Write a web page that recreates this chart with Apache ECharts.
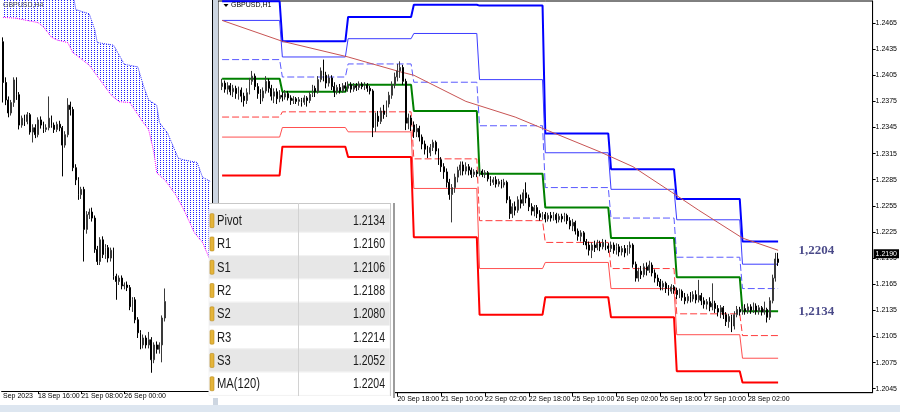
<!DOCTYPE html>
<html><head><meta charset="utf-8">
<script src="https://cdn.jsdelivr.net/npm/echarts@6/dist/echarts.min.js"></script>
<style>html,body{margin:0;padding:0;background:#fff}#c{width:900px;height:412px}</style>
</head><body><div id="c"></div>
<script>
// ---------- H1 main chart data ----------
const h1Days = ['18 Sep','19 Sep','20 Sep','21 Sep','22 Sep','25 Sep','26 Sep','27 Sep','28 Sep','29 Sep'];
const h1FirstHour = 1;
const h1CategoryCount = 239;
const h1TickLabels = ['20 Sep 18:00','21 Sep 10:00','22 Sep 02:00','22 Sep 18:00','25 Sep 10:00','26 Sep 02:00','26 Sep 18:00','27 Sep 10:00','28 Sep 02:00'];
const h1FirstBarCategory = 1;
// [open, close, low, high]
const h1Candles = [
[1.2392,1.2396,1.2388,1.2401],[1.2396,1.2389,1.2385,1.2399],[1.2389,1.2393,1.2383,1.2397],[1.2393,1.2386,1.2382,1.2396],
[1.2386,1.2390,1.2380,1.2394],[1.2390,1.2384,1.2378,1.2393],[1.2384,1.2388,1.2377,1.2392],[1.2388,1.2381,1.2374,1.2391],
[1.2381,1.2376,1.2369,1.2385],[1.2376,1.2385,1.2372,1.2390],[1.2385,1.2398,1.2383,1.2402],[1.2398,1.2404,1.2394,1.2410],
[1.2404,1.2392,1.2388,1.2407],[1.2392,1.2384,1.2378,1.2396],[1.2384,1.2379,1.2372,1.2389],[1.2379,1.2387,1.2375,1.2391],
[1.2387,1.2398,1.2384,1.2404],[1.2398,1.2390,1.2385,1.2401],[1.2390,1.2381,1.2376,1.2394],[1.2381,1.2386,1.2373,1.2390],
[1.2386,1.2378,1.2372,1.2390],[1.2378,1.2382,1.2374,1.2388],
[1.2382,1.2380,1.2375,1.2386],[1.2380,1.2384,1.2377,1.2388],[1.2384,1.2379,1.2376,1.2387],[1.2379,1.2376,1.2371,1.2382],
[1.2376,1.2378,1.2372,1.2381],[1.2378,1.2375,1.2372,1.2380],[1.2375,1.2377,1.2370,1.2380],[1.2377,1.2374,1.2369,1.2379],
[1.2374,1.2379,1.2371,1.2382],[1.2379,1.2376,1.2369,1.2381],[1.2376,1.2383,1.2373,1.2386],[1.2383,1.2390,1.2380,1.2394],
[1.2390,1.2386,1.2380,1.2393],[1.2386,1.2400,1.2384,1.2404],[1.2400,1.2410,1.2397,1.2414],[1.2410,1.2405,1.2398,1.2423],
[1.2405,1.2396,1.2390,1.2409],[1.2396,1.2402,1.2392,1.2406],[1.2402,1.2392,1.2388,1.2405],[1.2392,1.2386,1.2380,1.2397],
[1.2386,1.2391,1.2383,1.2394],[1.2391,1.2387,1.2384,1.2395],[1.2387,1.2393,1.2385,1.2396],[1.2393,1.2390,1.2386,1.2397],
[1.2390,1.2394,1.2386,1.2398],[1.2394,1.2389,1.2385,1.2397],[1.2389,1.2393,1.2386,1.2396],[1.2393,1.2391,1.2387,1.2396],
[1.2391,1.2395,1.2388,1.2398],[1.2395,1.2392,1.2389,1.2397],[1.2392,1.2394,1.2388,1.2397],[1.2394,1.2390,1.2386,1.2396],
[1.2390,1.2387,1.2383,1.2393],[1.2387,1.2345,1.2334,1.2389],[1.2345,1.2358,1.2340,1.2362],[1.2358,1.2352,1.2346,1.2364],
[1.2352,1.2364,1.2349,1.2368],[1.2364,1.2360,1.2355,1.2371],[1.2360,1.2372,1.2357,1.2376],[1.2372,1.2382,1.2368,1.2386],
[1.2382,1.2394,1.2378,1.2398],[1.2394,1.2403,1.2390,1.2408],[1.2403,1.2410,1.2398,1.2418],[1.2410,1.2414,1.2402,1.2421],
[1.2414,1.2398,1.2394,1.2417],[1.2398,1.2350,1.2342,1.2401],[1.2350,1.2356,1.2343,1.2361],[1.2356,1.2348,1.2341,1.2359],
[1.2348,1.2340,1.2333,1.2352],[1.2340,1.2344,1.2334,1.2349],[1.2344,1.2334,1.2329,1.2347],[1.2334,1.2326,1.2320,1.2337],
[1.2326,1.2320,1.2314,1.2330],[1.2320,1.2316,1.2310,1.2324],[1.2316,1.2322,1.2312,1.2326],[1.2322,1.2328,1.2318,1.2331],
[1.2328,1.2318,1.2314,1.2330],[1.2318,1.2308,1.2302,1.2321],[1.2308,1.2300,1.2294,1.2311],[1.2300,1.2294,1.2286,1.2304],
[1.2294,1.2282,1.2276,1.2298],[1.2282,1.2268,1.2262,1.2286],[1.2268,1.2276,1.2236,1.2280],[1.2276,1.2288,1.2270,1.2292],
[1.2288,1.2296,1.2282,1.2300],[1.2296,1.2302,1.2290,1.2306],[1.2302,1.2295,1.2290,1.2306],[1.2295,1.2300,1.2291,1.2305],
[1.2300,1.2296,1.2290,1.2303],[1.2296,1.2291,1.2287,1.2299],[1.2291,1.2294,1.2288,1.2297],[1.2294,1.2292,1.2288,1.2296],
[1.2292,1.2295,1.2289,1.2298],[1.2295,1.2291,1.2288,1.2297],[1.2291,1.2293,1.2287,1.2296],[1.2293,1.2286,1.2283,1.2295],
[1.2286,1.2282,1.2278,1.2289],[1.2282,1.2285,1.2279,1.2288],[1.2285,1.2280,1.2276,1.2289],[1.2280,1.2283,1.2277,1.2286],
[1.2283,1.2279,1.2275,1.2285],[1.2279,1.2282,1.2276,1.2286],[1.2282,1.2262,1.2258,1.2284],[1.2262,1.2246,1.2240,1.2266],
[1.2246,1.2254,1.2241,1.2258],[1.2254,1.2250,1.2244,1.2260],[1.2250,1.2262,1.2247,1.2266],[1.2262,1.2258,1.2252,1.2268],
[1.2258,1.2270,1.2255,1.2274],[1.2270,1.2264,1.2258,1.2282],[1.2264,1.2254,1.2249,1.2268],[1.2254,1.2249,1.2244,1.2258],
[1.2249,1.2253,1.2243,1.2256],[1.2253,1.2246,1.2241,1.2256],[1.2246,1.2242,1.2238,1.2250],[1.2242,1.2245,1.2239,1.2248],
[1.2245,1.2240,1.2236,1.2248],[1.2240,1.2244,1.2237,1.2247],[1.2244,1.2241,1.2237,1.2248],[1.2241,1.2245,1.2238,1.2248],
[1.2245,1.2239,1.2235,1.2247],[1.2239,1.2243,1.2236,1.2246],[1.2243,1.2240,1.2236,1.2246],[1.2240,1.2244,1.2237,1.2247],
[1.2244,1.2238,1.2234,1.2246],[1.2238,1.2232,1.2228,1.2242],[1.2232,1.2236,1.2226,1.2240],[1.2236,1.2226,1.2222,1.2238],
[1.2226,1.2220,1.2215,1.2229],[1.2220,1.2224,1.2214,1.2227],[1.2224,1.2214,1.2210,1.2226],[1.2214,1.2210,1.2205,1.2217],
[1.2210,1.2204,1.2198,1.2214],[1.2204,1.2210,1.2195,1.2213],[1.2210,1.2207,1.2202,1.2215],[1.2207,1.2212,1.2204,1.2216],
[1.2212,1.2208,1.2203,1.2215],[1.2208,1.2213,1.2205,1.2217],[1.2213,1.2209,1.2204,1.2216],[1.2209,1.2206,1.2201,1.2212],
[1.2206,1.2210,1.2202,1.2214],[1.2210,1.2204,1.2200,1.2213],[1.2204,1.2208,1.2199,1.2212],[1.2208,1.2202,1.2197,1.2211],
[1.2202,1.2206,1.2198,1.2209],[1.2206,1.2201,1.2196,1.2210],[1.2201,1.2207,1.2198,1.2210],[1.2207,1.2210,1.2200,1.2214],
[1.2210,1.2188,1.2184,1.2212],[1.2188,1.2172,1.2168,1.2191],[1.2172,1.2180,1.2168,1.2184],[1.2180,1.2176,1.2171,1.2186],
[1.2176,1.2185,1.2173,1.2189],[1.2185,1.2181,1.2175,1.2190],[1.2181,1.2187,1.2178,1.2192],[1.2187,1.2178,1.2174,1.2190],
[1.2178,1.2172,1.2167,1.2182],[1.2172,1.2168,1.2163,1.2176],[1.2168,1.2162,1.2158,1.2171],[1.2162,1.2166,1.2158,1.2169],
[1.2166,1.2160,1.2155,1.2168],[1.2160,1.2157,1.2152,1.2164],[1.2157,1.2162,1.2154,1.2165],[1.2162,1.2158,1.2154,1.2164],
[1.2158,1.2153,1.2148,1.2161],[1.2153,1.2157,1.2149,1.2160],[1.2157,1.2150,1.2146,1.2159],[1.2150,1.2146,1.2142,1.2155],
[1.2146,1.2151,1.2143,1.2154],[1.2151,1.2148,1.2144,1.2156],[1.2148,1.2153,1.2145,1.2157],[1.2153,1.2147,1.2143,1.2158],
[1.2147,1.2152,1.2144,1.2170],[1.2152,1.2146,1.2141,1.2155],[1.2146,1.2142,1.2137,1.2150],[1.2142,1.2145,1.2136,1.2148],
[1.2145,1.2139,1.2134,1.2150],[1.2139,1.2143,1.2135,1.2166],[1.2143,1.2137,1.2132,1.2146],[1.2137,1.2133,1.2128,1.2141],
[1.2133,1.2138,1.2126,1.2141],[1.2138,1.2130,1.2125,1.2140],[1.2130,1.2122,1.2117,1.2133],[1.2122,1.2128,1.2115,1.2131],
[1.2128,1.2117,1.2110,1.2130],[1.2117,1.2130,1.2113,1.2134],[1.2130,1.2136,1.2127,1.2140],[1.2136,1.2133,1.2129,1.2139],
[1.2133,1.2137,1.2130,1.2140],[1.2137,1.2134,1.2130,1.2142],[1.2134,1.2139,1.2131,1.2143],[1.2139,1.2135,1.2131,1.2142],
[1.2135,1.2140,1.2132,1.2144],[1.2140,1.2134,1.2130,1.2143],[1.2134,1.2138,1.2130,1.2141],[1.2138,1.2133,1.2129,1.2140],
[1.2133,1.2136,1.2130,1.2145],[1.2136,1.2127,1.2121,1.2138],[1.2127,1.2146,1.2124,1.2150],[1.2146,1.2172,1.2143,1.2176],
[1.2172,1.2194,1.2168,1.2201],[1.2194,1.2190,1.2186,1.2201]
];
// daily pivot levels (one value per trading day)
const dayStartBar = [0,22,46,70,94,118,142,166,190];
const dayEndBar   = [21,45,69,93,117,141,165,189,203];
const levelR3    = [1.2490,1.2444,1.2472,1.2486,1.2485,1.2338,1.2297,1.2263,1.2214];
const levelR2    = [1.2468,1.2426,1.2447,1.2453,1.2400,1.2316,1.2274,1.2239,1.2188];
const levelR1    = [1.2423,1.2403,1.2418,1.2397,1.2347,1.2276,1.2241,1.2196,1.2160];
const levelPivot = [1.2401,1.2386,1.2394,1.2364,1.2292,1.2253,1.2218,1.2173,1.2134];
const levelS1    = [1.2357,1.2363,1.2363,1.2309,1.2238,1.2213,1.2183,1.2131,1.2106];
const levelS2    = [1.2334,1.2345,1.2340,1.2275,1.2183,1.2190,1.2160,1.2107,1.2080];
const levelS3    = [1.2290,1.2323,1.2311,1.2219,1.2130,1.2150,1.2127,1.2065,1.2052];
// MA(120) read at bars
const maBars   = [0,22,46,65,70,89,107,117,138,150,164,174,190,203];
const maValues = [1.2468,1.2444,1.2426,1.2409,1.2405,1.2375,1.2357,1.2344,1.2317,1.2300,1.2271,1.2250,1.2218,1.2204];
const yTicks = [1.2045,1.2075,1.2105,1.2135,1.2165,1.2195,1.2225,1.2255,1.2285,1.2315,1.2345,1.2375,1.2405,1.2435,1.2465];
const currentPrice = 1.2190;
const annotationValues = [1.2204,1.2134];
const annotationTexts = ['1,2204','1,2134'];
const annotationCategory = 218;

// ---------- H4 left chart data ----------
const h4Days = ['14 Sep','15 Sep','18 Sep','19 Sep','20 Sep','21 Sep','22 Sep','25 Sep','26 Sep','27 Sep','28 Sep','29 Sep','2 Oct','3 Oct'];
const h4FirstHour = 12;
const h4CategoryCount = 78;
const h4TickCats  = ['14 Sep 12:00','18 Sep 16:00','21 Sep 08:00','26 Sep 00:00'];
const h4TickTexts = ['Sep 2023','18 Sep 16:00','21 Sep 08:00','26 Sep 00:00'];
const h4Candles = [
[1.2487,1.2440,1.2417,1.2492],[1.2440,1.2420,1.2414,1.2446],[1.2420,1.2405,1.2400,1.2424],[1.2405,1.2417,1.2402,1.2420],
[1.2417,1.2443,1.2412,1.2446],[1.2443,1.2426,1.2420,1.2446],[1.2426,1.2391,1.2386,1.2429],[1.2391,1.2399,1.2388,1.2402],
[1.2399,1.2395,1.2390,1.2403],[1.2395,1.2403,1.2392,1.2406],[1.2403,1.2383,1.2380,1.2405],[1.2383,1.2388,1.2371,1.2392],
[1.2388,1.2380,1.2376,1.2392],[1.2380,1.2397,1.2377,1.2400],[1.2397,1.2391,1.2387,1.2401],[1.2391,1.2386,1.2382,1.2395],
[1.2386,1.2388,1.2383,1.2392],[1.2388,1.2399,1.2385,1.2424],[1.2399,1.2391,1.2388,1.2402],[1.2391,1.2386,1.2382,1.2394],
[1.2386,1.2392,1.2383,1.2395],[1.2392,1.2388,1.2384,1.2396],[1.2388,1.2368,1.2332,1.2390],[1.2368,1.2380,1.2365,1.2384],
[1.2380,1.2414,1.2377,1.2422],[1.2414,1.2409,1.2402,1.2418],[1.2409,1.2342,1.2338,1.2412],[1.2342,1.2328,1.2322,1.2346],
[1.2328,1.2311,1.2305,1.2331],[1.2311,1.2317,1.2306,1.2320],[1.2317,1.2271,1.2234,1.2320],[1.2271,1.2288,1.2266,1.2292],
[1.2288,1.2291,1.2283,1.2295],[1.2291,1.2284,1.2280,1.2296],[1.2284,1.2248,1.2244,1.2287],[1.2248,1.2234,1.2230,1.2252],
[1.2234,1.2259,1.2230,1.2262],[1.2259,1.2242,1.2238,1.2263],[1.2242,1.2250,1.2237,1.2254],[1.2250,1.2238,1.2233,1.2253],
[1.2238,1.2247,1.2234,1.2250],[1.2247,1.2217,1.2213,1.2250],[1.2217,1.2211,1.2190,1.2220],[1.2211,1.2215,1.2207,1.2218],
[1.2215,1.2206,1.2202,1.2218],[1.2206,1.2207,1.2202,1.2210],[1.2207,1.2204,1.2200,1.2211],[1.2204,1.2182,1.2178,1.2207],
[1.2182,1.2190,1.2176,1.2193],[1.2190,1.2167,1.2163,1.2193],[1.2167,1.2152,1.2146,1.2170],[1.2152,1.2138,1.2133,1.2155],
[1.2138,1.2146,1.2134,1.2150],[1.2146,1.2138,1.2134,1.2149],[1.2138,1.2144,1.2134,1.2153],[1.2144,1.2121,1.2106,1.2147],
[1.2121,1.2138,1.2117,1.2141],[1.2138,1.2133,1.2128,1.2142],[1.2133,1.2138,1.2128,1.2141],[1.2138,1.2169,1.2118,1.2172],
[1.2169,1.2188,1.2165,1.2203]
];
const cloudUpper = [[0,1.2560],[25,1.2560],[27,1.2524],[32,1.2519],[34,1.2501],[35,1.2486],[41,1.2483],[43,1.2472],[45,1.2461],[50,1.2458],[52,1.2437],[54,1.2420],[57,1.2414],[58,1.2394],[61,1.2382],[65,1.2353],[67,1.2351],[72,1.2348],[74,1.2331],[77,1.2326]];
const cloudLower = [[0,1.2515],[5,1.2514],[8,1.2512],[13,1.2509],[15,1.2504],[18,1.2492],[20,1.2489],[24,1.2486],[26,1.2474],[27,1.2472],[32,1.2460],[36,1.2443],[40,1.2426],[43,1.2418],[47,1.2417],[52,1.2394],[54,1.2386],[56,1.2359],[57,1.2336],[60,1.2328],[64,1.2311],[67,1.2294],[71,1.2267],[74,1.2256],[77,1.2234]];

// ---------- table ----------
const tableNames  = ['Pivot','R1','S1','R2','S2','R3','S3','MA(120)'];
const tableValues = [1.2134,1.2160,1.2106,1.2188,1.2080,1.2214,1.2052,1.2204];

// ---------- build ----------
function buildCats(days, firstHour, step, count){
  const out=[];
  for(let d=0; d<days.length && out.length<count; d++){
    for(let h=(d===0?firstHour:0); h<24 && out.length<count; h+=step){
      out.push(days[d]+' '+String(h).padStart(2,'0')+':00');
    }
  }
  return out;
}
const h1Categories = buildCats(h1Days, h1FirstHour, 1, h1CategoryCount);
const h4Categories = buildCats(h4Days, h4FirstHour, 4, h4CategoryCount);

const h1Rows = h1Candles.map((c,i)=>[i+h1FirstBarCategory, c[0], c[1], c[2], c[3]]);
const h4Rows = h4Candles.map((c,i)=>[i, c[0], c[1], c[2], c[3]]);

function levelData(vals){
  const out=[];
  vals.forEach((v,d)=>{ out.push([dayStartBar[d]+h1FirstBarCategory, v]); out.push([dayEndBar[d]+h1FirstBarCategory, v]); });
  return out;
}
function levelSeries(name, vals, color, width, type){
  return {name, type:'line', xAxisIndex:1, yAxisIndex:1, data: levelData(vals), showSymbol:false, symbol:'none',
    lineStyle:{color, width, type}, z:2, silent:true, animation:false};
}

const pc = document.createElement('canvas'); pc.width=3; pc.height=2;
const pg = pc.getContext('2d'); pg.fillStyle='#1f1fff'; pg.fillRect(1,0,1,1);

const FONT = '"Liberation Sans", Arial, sans-serif';

const candleStyle = {color:'#8a8a8a', color0:'#000000', borderColor:'#3a3a3a', borderColor0:'#000000', borderWidth:1};

const graphics = [];
graphics.push({type:'rect', shape:{x:213, y:0, width:5, height:406}, style:{fill:'#cdd6e1'}, z:50, silent:true});
graphics.push({type:'rect', shape:{x:0, y:405, width:900, height:7}, style:{fill:'#dde6f0'}, z:50, silent:true});
graphics.push({type:'text', x:3, y:5.5, style:{text:'GBPUSD,H4', font:'7px '+FONT, fill:'#555', verticalAlign:'middle', textVerticalAlign:'middle'}, z:60});
graphics.push({type:'polygon', shape:{points:[[223.5,4],[228.5,4],[226,7]]}, style:{fill:'#000'}, z:60});
graphics.push({type:'text', x:231, y:5.5, style:{text:'GBPUSD,H1', font:'7px '+FONT, fill:'#000', verticalAlign:'middle', textVerticalAlign:'middle'}, z:60});
// table
const tX=209, tTop=203, rowTop=209, rowH=23.3;
graphics.push({type:'rect', shape:{x:tX, y:tTop, width:184, height:195}, style:{fill:'#ffffff'}, z:100, silent:true});
tableNames.forEach((nm,i)=>{
  const y0 = rowTop + i*rowH, cy = y0 + rowH/2;
  graphics.push({type:'rect', shape:{x:tX, y:y0, width:181, height:rowH}, style:{fill: i%2===0 ? '#e7e7e7' : '#ffffff', stroke:'#f2f2f2', lineWidth:1}, z:101, silent:true});
  graphics.push({type:'rect', shape:{x:210, y:cy-7, width:4, height:14, r:1}, style:{fill:'#e4b43a', stroke:'#b9891c', lineWidth:0.6}, z:103, silent:true});
  graphics.push({type:'text', x:217, y:cy+0.5, scaleX:0.8, style:{text:nm, font:'14px '+FONT, fill:'#1a1a1a', verticalAlign:'middle', textVerticalAlign:'middle'}, z:104});
  graphics.push({type:'text', x:385, y:cy+0.5, scaleX:0.75, style:{text:tableValues[i].toFixed(4), font:'14px '+FONT, fill:'#1a1a1a', align:'right', textAlign:'right', verticalAlign:'middle', textVerticalAlign:'middle'}, z:104});
});
graphics.push({type:'line', shape:{x1:tX, y1:203.5, x2:390, y2:203.5}, style:{stroke:'#c8c8c8', lineWidth:1}, z:105, silent:true});
graphics.push({type:'line', shape:{x1:298.5, y1:203, x2:298.5, y2:396}, style:{stroke:'#d2d2d2', lineWidth:1}, z:105, silent:true});
graphics.push({type:'line', shape:{x1:390.5, y1:203, x2:390.5, y2:396}, style:{stroke:'#c8c8c8', lineWidth:1}, z:105, silent:true});
graphics.push({type:'line', shape:{x1:394, y1:203, x2:394, y2:398}, style:{stroke:'#9c9c9c', lineWidth:2}, z:105, silent:true});

const chart = echarts.init(document.getElementById('c'), null, {renderer:'canvas'});
chart.setOption({
  animation:false,
  backgroundColor:'#ffffff',
  textStyle:{fontFamily:FONT},
  grid:[
    {left:-1, top:0, width:213, height:391, show:false},
    {left:218, top:1, width:655, height:391.7, show:true, borderColor:'#000', borderWidth:1, backgroundColor:'transparent'}
  ],
  xAxis:[
    {type:'category', gridIndex:0, data:h4Categories, boundaryGap:true,
      axisLine:{show:true, lineStyle:{color:'#000', width:1}},
      axisTick:{show:true, alignWithLabel:true, length:3, lineStyle:{color:'#000'}, interval:(i,v)=>h4TickCats.indexOf(v)>0},
      axisLabel:{show:true, interval:(i,v)=>h4TickCats.indexOf(v)>=0, formatter:v=>h4TickTexts[h4TickCats.indexOf(v)], fontSize:7, color:'#000', align:'left', margin:2, fontFamily:FONT},
      splitLine:{show:false}},
    {type:'category', gridIndex:1, data:h1Categories, boundaryGap:true,
      axisLine:{show:true, lineStyle:{color:'#000', width:1}},
      axisTick:{show:true, alignWithLabel:true, length:4, lineStyle:{color:'#000'}, interval:(i,v)=>h1TickLabels.indexOf(v)>=0},
      axisLabel:{show:true, interval:(i,v)=>h1TickLabels.indexOf(v)>=0, fontSize:7, color:'#000', align:'left', margin:3, fontFamily:FONT},
      splitLine:{show:false}}
  ],
  yAxis:[
    {type:'value', gridIndex:0, position:'right', min:1.2085, max:1.2535, scale:true,
      axisLine:{show:true, lineStyle:{color:'#000'}}, axisTick:{show:false}, axisLabel:{show:false}, splitLine:{show:false}},
    {type:'value', gridIndex:1, position:'right', min:1.20404, max:1.24903, scale:true,
      axisLine:{show:true, lineStyle:{color:'#000'}},
      axisTick:{show:true, length:3, customValues:yTicks, lineStyle:{color:'#000'}},
      axisLabel:{show:true, customValues:yTicks, formatter:v=>v.toFixed(4), fontSize:7, color:'#000', margin:3, fontFamily:FONT},
      splitLine:{show:false}}
  ],
  graphic: graphics,
  series:[
    {name:'cloudUpper', type:'line', xAxisIndex:0, yAxisIndex:0, data:cloudUpper, showSymbol:false, symbol:'none',
      lineStyle:{color:'#2a2aff', width:1, type:'dotted'}, areaStyle:{color:{image:pc, repeat:'repeat'}, opacity:1, origin:'start'}, z:1, silent:true},
    {name:'cloudLower', type:'line', xAxisIndex:0, yAxisIndex:0, data:cloudLower, showSymbol:false, symbol:'none',
      lineStyle:{color:'#ff00ff', width:1, type:'dotted'}, areaStyle:{color:'#ffffff', opacity:1, origin:'start'}, z:1, silent:true},
    {name:'H4', type:'candlestick', xAxisIndex:0, yAxisIndex:0, data:h4Rows, encode:{x:0, y:[1,2,3,4]}, barMaxWidth:2, itemStyle:candleStyle, z:3, silent:true},
    levelSeries('R3', levelR3, '#0000ff', 2, 'solid'),
    levelSeries('R2', levelR2, '#3c3cff', 1, 'solid'),
    levelSeries('R1', levelR1, '#5a5aff', 1, [7,3]),
    levelSeries('Pivot', levelPivot, '#008000', 2, 'solid'),
    levelSeries('S1', levelS1, '#ff3c3c', 1, [7,3]),
    levelSeries('S2', levelS2, '#ff5050', 1, 'solid'),
    levelSeries('S3', levelS3, '#ff0000', 2, 'solid'),
    {name:'MA(120)', type:'line', xAxisIndex:1, yAxisIndex:1, data: maBars.map((b,i)=>[b+h1FirstBarCategory, maValues[i]]),
      showSymbol:false, symbol:'none', lineStyle:{color:'#c85454', width:1}, z:2, silent:true},
    {name:'H1', type:'candlestick', xAxisIndex:1, yAxisIndex:1, data:h1Rows, encode:{x:0, y:[1,2,3,4]}, barMaxWidth:2, itemStyle:candleStyle, z:3, silent:true,
      markLine:{symbol:'none', silent:true, data:[{yAxis:currentPrice}], lineStyle:{color:'rgba(0,0,0,0)', width:0},
        label:{show:true, position:'end', formatter:currentPrice.toFixed(4), backgroundColor:'#000', color:'#fff', fontSize:7, padding:[1,2,1,2], distance:1, fontFamily:FONT}}},
    {name:'annotations', type:'scatter', xAxisIndex:1, yAxisIndex:1, data: annotationValues.map(v=>[annotationCategory, v]),
      symbolSize:1, itemStyle:{color:'rgba(0,0,0,0)'}, z:6, silent:true,
      label:{show:true, position:'inside', formatter:p=>annotationTexts[p.dataIndex], fontFamily:'"Liberation Serif", "Times New Roman", serif', fontWeight:'bold', fontSize:13, color:'#1c1c6a'}}
  ]
});
</script></body></html>
